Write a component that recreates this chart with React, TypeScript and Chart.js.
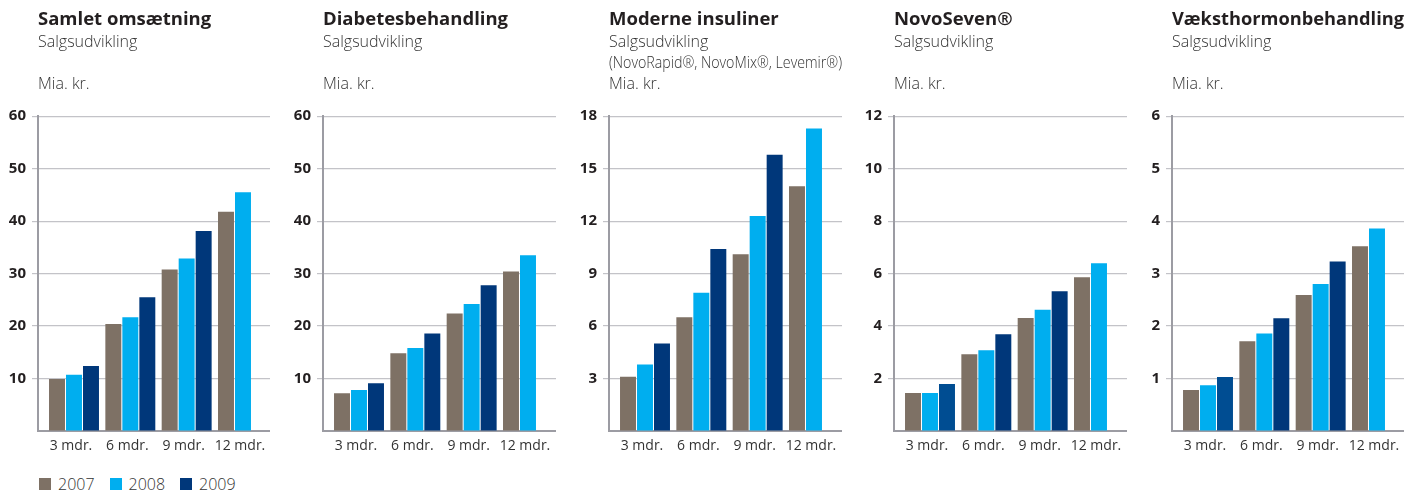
import React, { useEffect, useRef } from "react";
import { Chart, registerables } from "chart.js";

Chart.register(...registerables);

// ---------- data ----------
const categories = ["3 mdr.", "6 mdr.", "9 mdr.", "12 mdr."];
const seriesNames = ["2007", "2008", "2009"];

const samlet2007 = [9.9, 20.4, 30.8, 41.8];
const samlet2008 = [10.7, 21.7, 32.9, 45.5];
const samlet2009 = [12.4, 25.5, 38.1, null];
const samletTicks = [0, 10, 20, 30, 40, 50, 60];

const diabetes2007 = [7.2, 14.8, 22.4, 30.4];
const diabetes2008 = [7.8, 15.8, 24.2, 33.5];
const diabetes2009 = [9.1, 18.6, 27.8, null];
const diabetesTicks = [0, 10, 20, 30, 40, 50, 60];

const insuliner2007 = [3.1, 6.5, 10.1, 14.0];
const insuliner2008 = [3.8, 7.9, 12.3, 17.3];
const insuliner2009 = [5.0, 10.4, 15.8, null];
const insulinerTicks = [0, 3, 6, 9, 12, 15, 18];

const novoseven2007 = [1.45, 2.93, 4.31, 5.86];
const novoseven2008 = [1.45, 3.08, 4.62, 6.39];
const novoseven2009 = [1.79, 3.69, 5.33, null];
const novosevenTicks = [0, 2, 4, 6, 8, 10, 12];

const vaekst2007 = [0.78, 1.71, 2.59, 3.52];
const vaekst2008 = [0.87, 1.86, 2.8, 3.86];
const vaekst2009 = [1.03, 2.15, 3.23, null];
const vaekstTicks = [0, 1, 2, 3, 4, 5, 6];

// ---------- styles ----------
const FONT = "'Open Sans', 'Noto Sans', 'DejaVu Sans', sans-serif";
const seriesColors = ["#7e7165", "#00aeef", "#00377a"];
const NAVY_LIGHT = "#004d92";
const GRID = "#c3c3c8";
const AXIS = "#9c9ca3";
const TEXT = "#231f20";

type PanelCfg = {
  title: string;
  subtitle: string[];
  values: (number | null)[][];
  ticks: number[];
  left: number;
  plotWidth: number;
  lightFirst: boolean;
};

const panels: PanelCfg[] = [
  {
    title: "Samlet omsætning",
    subtitle: ["Salgsudvikling", "", "Mia. kr."],
    values: [samlet2007, samlet2008, samlet2009],
    ticks: samletTicks,
    left: 38,
    plotWidth: 232,
    lightFirst: false,
  },
  {
    title: "Diabetesbehandling",
    subtitle: ["Salgsudvikling", "", "Mia. kr."],
    values: [diabetes2007, diabetes2008, diabetes2009],
    ticks: diabetesTicks,
    left: 323,
    plotWidth: 233,
    lightFirst: false,
  },
  {
    title: "Moderne insuliner",
    subtitle: ["Salgsudvikling", "(NovoRapid®, NovoMix®, Levemir®)", "Mia. kr."],
    values: [insuliner2007, insuliner2008, insuliner2009],
    ticks: insulinerTicks,
    left: 609,
    plotWidth: 233,
    lightFirst: false,
  },
  {
    title: "NovoSeven®",
    subtitle: ["Salgsudvikling", "", "Mia. kr."],
    values: [novoseven2007, novoseven2008, novoseven2009],
    ticks: novosevenTicks,
    left: 894,
    plotWidth: 233,
    lightFirst: true,
  },
  {
    title: "Væksthormonbehandling",
    subtitle: ["Salgsudvikling", "", "Mia. kr."],
    values: [vaekst2007, vaekst2008, vaekst2009],
    ticks: vaekstTicks,
    left: 1172,
    plotWidth: 232,
    lightFirst: true,
  },
];

const Y_AXIS_W = 36;
const X_AXIS_H = 30;
const CANVAS_H = 461;

function Panel({ cfg }: { cfg: PanelCfg }) {
  const ref = useRef<HTMLCanvasElement>(null);

  useEffect(() => {
    if (!ref.current) return;
    const ticks = cfg.ticks;
    const yMax = ticks[ticks.length - 1];
    const step = ticks[1] - ticks[0];
    const pitch = 56.33;
    const xMin = -36 / pitch;
    const xMax = (cfg.plotWidth - 36) / pitch;

    const chart = new Chart(ref.current, {
      type: "bar",
      data: {
        datasets: seriesNames.map((name, s) => ({
          label: name,
          data: cfg.values[s].map((v, i) => ({ x: i, y: v })) as any,
          backgroundColor:
            s === 2
              ? cfg.values[s].map((_, i) =>
                  i === 0 && cfg.lightFirst ? NAVY_LIGHT : seriesColors[2]
                )
              : seriesColors[s],
          categoryPercentage: 0.905,
          barPercentage: 0.94,
        })),
      },
      options: {
        responsive: false,
        animation: false,
        layout: { padding: 0 },
        plugins: {
          legend: { display: false },
          tooltip: { enabled: false },
          title: {
            display: true,
            text: cfg.title,
            align: "start",
            fullSize: false,
            color: TEXT,
            font: { family: FONT, size: 18.5, weight: "bold", lineHeight: 1.2 },
            padding: { top: 9, bottom: 0 },
          },
          subtitle: {
            display: true,
            text: cfg.subtitle,
            align: "start",
            fullSize: false,
            color: "#333333",
            font: { family: FONT, size: 16, weight: "300", lineHeight: 21 / 16 },
            padding: { top: 1, bottom: 21 },
          },
        },
        scales: {
          x: {
            type: "linear",
            offset: false,
            min: xMin,
            max: xMax,
            grid: { display: false, drawTicks: false, offset: false },
            border: { display: true, color: AXIS, width: 2 },
            ticks: {
              stepSize: 1,
              includeBounds: false,
              autoSkip: false,
              maxRotation: 0,
              padding: 7,
              labelOffset: -3,
              color: "#333333",
              font: { family: FONT, size: 14 },
              callback: (v: any) => (categories[v as number] ?? ""),
            },
            afterFit: (s: any) => {
              s.height = X_AXIS_H;
              s.paddingLeft = 0;
              s.paddingRight = 0;
            },
          },
          y: {
            min: 0,
            max: yMax,
            ticks: {
              stepSize: step,
              padding: 6,
              color: TEXT,
              font: { family: FONT, size: 15, weight: "bold" },
              callback: (v: any) => (v === 0 ? "" : String(v)),
            },
            grid: {
              color: (c: any) => (c.tick && c.tick.value === 0 ? "rgba(0,0,0,0)" : GRID),
              tickColor: (c: any) => (c.tick && c.tick.value === 0 ? "rgba(0,0,0,0)" : GRID),
              tickLength: 6,
              lineWidth: 1.2,
            },
            border: { display: true, color: AXIS, width: 2 },
            afterFit: (s: any) => {
              s.width = Y_AXIS_W;
            },
          },
        },
      } as any,
    });
    return () => chart.destroy();
  }, [cfg]);

  return (
    <canvas
      ref={ref}
      width={Y_AXIS_W + cfg.plotWidth}
      height={CANVAS_H}
      style={{
        position: "absolute",
        left: cfg.left - Y_AXIS_W,
        top: 0,
        display: "block",
      }}
    />
  );
}

export default function App() {
  return (
    <div
      style={{
        position: "absolute",
        left: 0,
        top: 0,
        width: 1413,
        height: 493,
        background: "#ffffff",
        overflow: "hidden",
      }}
    >
      {panels.map((p) => (
        <Panel key={p.title} cfg={p} />
      ))}
      <div
        style={{
          position: "absolute",
          left: 39,
          top: 475,
          display: "flex",
          alignItems: "center",
          fontFamily: FONT,
          fontSize: 16,
          color: "#333333",
          fontWeight: 300,
          lineHeight: "18px",
        }}
      >
        {seriesNames.map((name, i) => (
          <div
            key={name}
            style={{ display: "flex", alignItems: "center", marginRight: 15 }}
          >
            <span
              style={{
                display: "inline-block",
                width: 12,
                height: 12,
                background: seriesColors[i],
                marginRight: 7,
              }}
            />
            <span>{name}</span>
          </div>
        ))}
      </div>
    </div>
  );
}
